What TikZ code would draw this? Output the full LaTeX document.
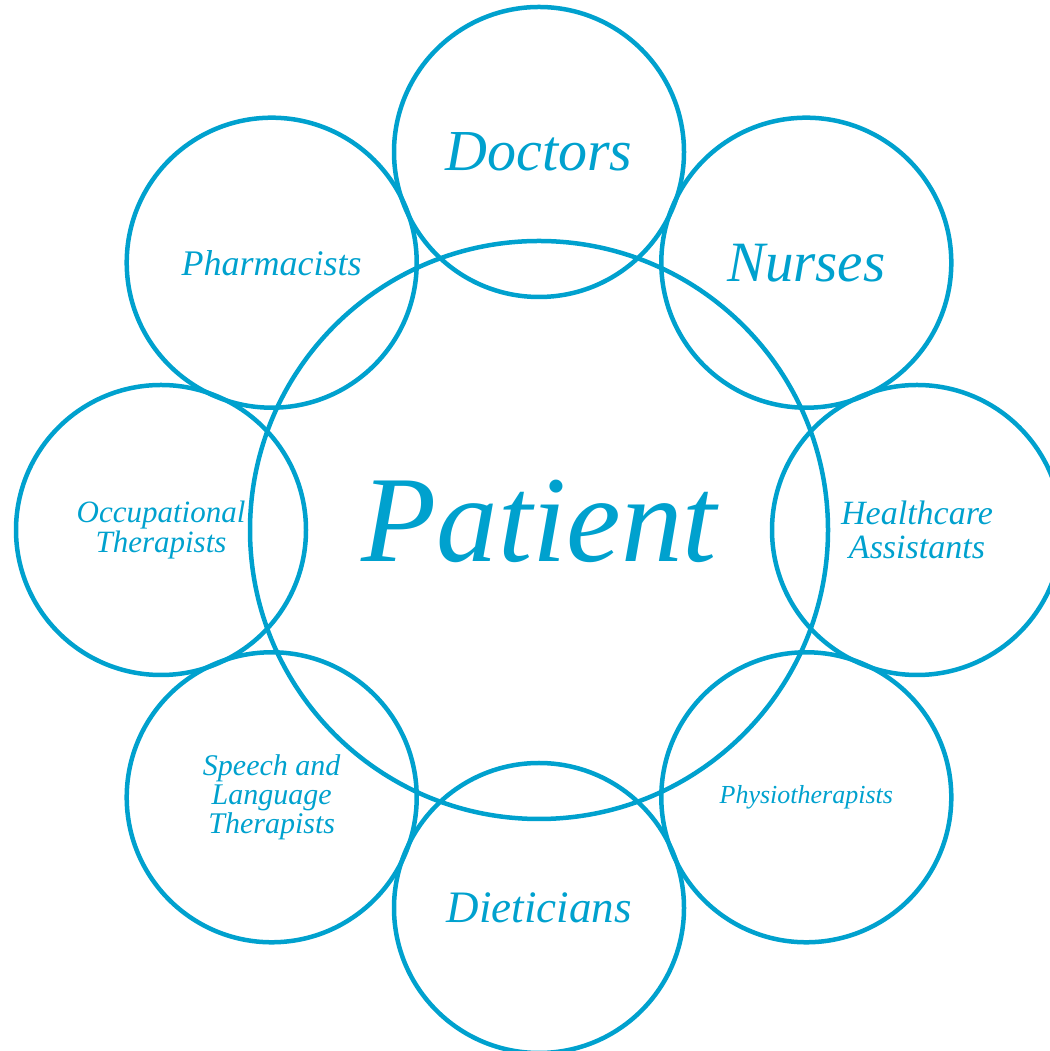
\documentclass[tikz,border=0pt]{standalone}
\usepackage{fontspec}
\setmainfont{Liberation Serif}
\usepackage{xcolor}
\usepackage{tikz}
\usetikzlibrary{calc}
\usetikzlibrary{positioning}

\definecolor{teamblue}{RGB}{0,161,206}

\begin{document}
\begin{tikzpicture}[
		x=1pt,
		y=1pt,
		/utils/exec={\itshape},
		text=teamblue,
	]
		\tikzset{ring/.style={
			draw=teamblue,
			circle,
			line width=4.5,
			inner sep=0,
			minimum size=290,
			align=center,
		}}
		\tikzset{lbl/.style 2 args={
			font=\fontsize{#1}{#2}\selectfont,
		}}

		\useasboundingbox (0,0) rectangle (1049,1051);

		\node[
			ring,
			minimum size=578,
		] (patient) at (539,521) {};
		\node[lbl={123}{127}, yshift=9] (patientlbl) at (patient) {Patient};

		\node[ring, lbl={58}{62}] (doctors) at ($(patient)+(90:378)$) {Doctors};
		\node[ring, lbl={57}{60}] (nurses) at ($(patient)+(45:378)$) {Nurses};
		\node[ring, lbl={34}{34}] (hca) at ($(patient)+(0:378)$) {Healthcare\\Assistants};
		\node[ring, lbl={26}{27}] (physio) at ($(patient)+(-45:378)$) {Physiotherapists};
		\node[ring, lbl={45}{48}] (dieticians) at ($(patient)+(-90:378)$) {Dieticians};
		\node[ring, lbl={30}{29}] (salt) at ($(patient)+(-135:378)$) {Speech and\\Language\\Therapists};
		\node[ring, lbl={31}{28}] (ot) at ($(patient)+(180:378)$) {Occupational\\Therapists};
		\node[ring, lbl={36}{38}] (pharmacists) at ($(patient)+(135:378)$) {Pharmacists};
	\end{tikzpicture}
\end{document}
